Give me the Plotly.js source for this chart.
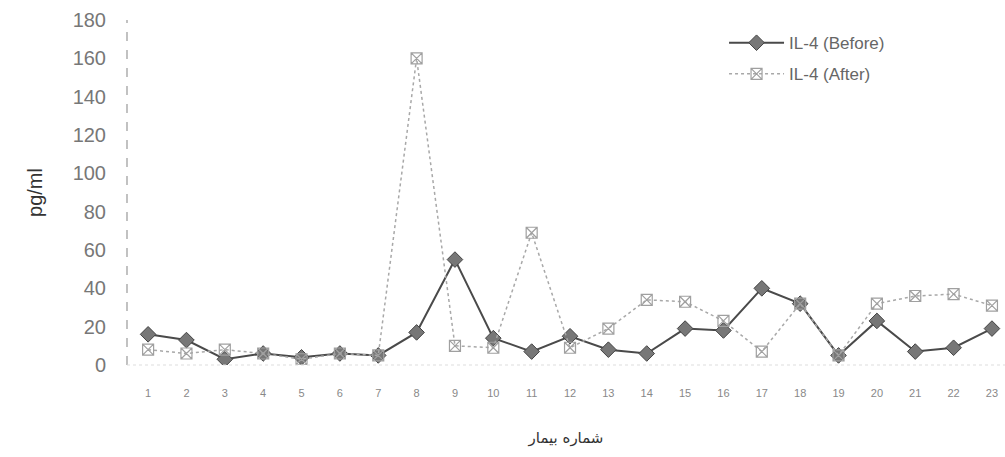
<!DOCTYPE html>
<html>
<head>
<meta charset="utf-8">
<script src="https://cdn.plot.ly/plotly-3.0.1.min.js"></script>
<style>html,body{margin:0;padding:0;background:#fff;}#chart{width:1005px;height:457px;}</style>
</head>
<body>
<div id="chart"></div>
<script>
const patients = [1,2,3,4,5,6,7,8,9,10,11,12,13,14,15,16,17,18,19,20,21,22,23];
const tickLabels = ["1","2","3","4","5","6","7","8","9","10","11","12","13","14","15","16","17","18","19","20","21","22","23"];
const il4Before = [16,13,3,6,4,6,5,17,55,14,7,15,8,6,19,18,40,32,5,23,7,9,19];
const il4After  = [8,6,8,6,3,6,5,160,10,9,69,9,19,34,33,23,7,32,5,32,36,37,31];
const seriesNames = ["IL-4 (Before)", "IL-4 (After)"];
const yTicks = [0,20,40,60,80,100,120,140,160,180];

const traces = [
  {
    x: patients, y: il4Before, name: seriesNames[0], type: 'scatter', mode: 'lines+markers',
    legendgroup: 'a',
    line: {color: '#4a4a4a', width: 2},
    marker: {symbol: 'diamond', size: 12, color: '#777777', line: {color: '#444444', width: 1}}
  },
  {
    x: patients, y: il4After, name: seriesNames[1], type: 'scatter', mode: 'lines+markers',
    legendgroup: 'b',
    line: {color: '#a8a8a8', width: 1.5, dash: 'dot'},
    marker: {symbol: 'square-x-open', size: 11, color: '#a0a0a0', line: {width: 1.2}}
  }
];

const layout = {
  width: 1005, height: 457,
  margin: {l: 127, r: 0, t: 20, b: 92},
  paper_bgcolor: '#ffffff', plot_bgcolor: '#ffffff',
  font: {family: 'Liberation Sans, Arial, sans-serif', color: '#666'},
  showlegend: true,
  legend: {
    x: 0.68, y: 0.985, xanchor: 'left', yanchor: 'top',
    font: {size: 17, color: '#666'}, bgcolor: 'rgba(0,0,0,0)',
    traceorder: 'grouped', tracegroupgap: 6, itemwidth: 55
  },
  xaxis: {
    range: [0.45, 23.34],
    tickmode: 'array', tickvals: patients, ticktext: tickLabels,
    tickfont: {size: 11, color: '#888'},
    showgrid: false, zeroline: false, showline: false, ticks: '',
    ticklabelstandoff: 20,
    title: {text: 'شماره بیمار', font: {size: 15, color: '#333', family: 'DejaVu Sans, Noto Sans, sans-serif'}, standoff: 34}
  },
  yaxis: {
    range: [0, 180],
    tickmode: 'array', tickvals: yTicks,
    tickfont: {size: 20, color: '#777'},
    showgrid: false, zeroline: false, showline: false, ticks: '',
    ticklabelstandoff: 20,
    title: {text: 'pg/ml', font: {size: 20, color: '#333'}, standoff: 24}
  },
  shapes: [
    {type: 'line', xref: 'paper', yref: 'paper', x0: 0, x1: 0, y0: 0, y1: 1,
     line: {color: '#999', width: 1.2, dash: 'dash'}},
    {type: 'line', xref: 'paper', yref: 'paper', x0: 0, x1: 1, y0: 0, y1: 0,
     line: {color: '#dddddd', width: 1, dash: 'dot'}}
  ]
};

Plotly.newPlot('chart', traces, layout, {displayModeBar: false, staticPlot: true});
</script>
</body>
</html>
